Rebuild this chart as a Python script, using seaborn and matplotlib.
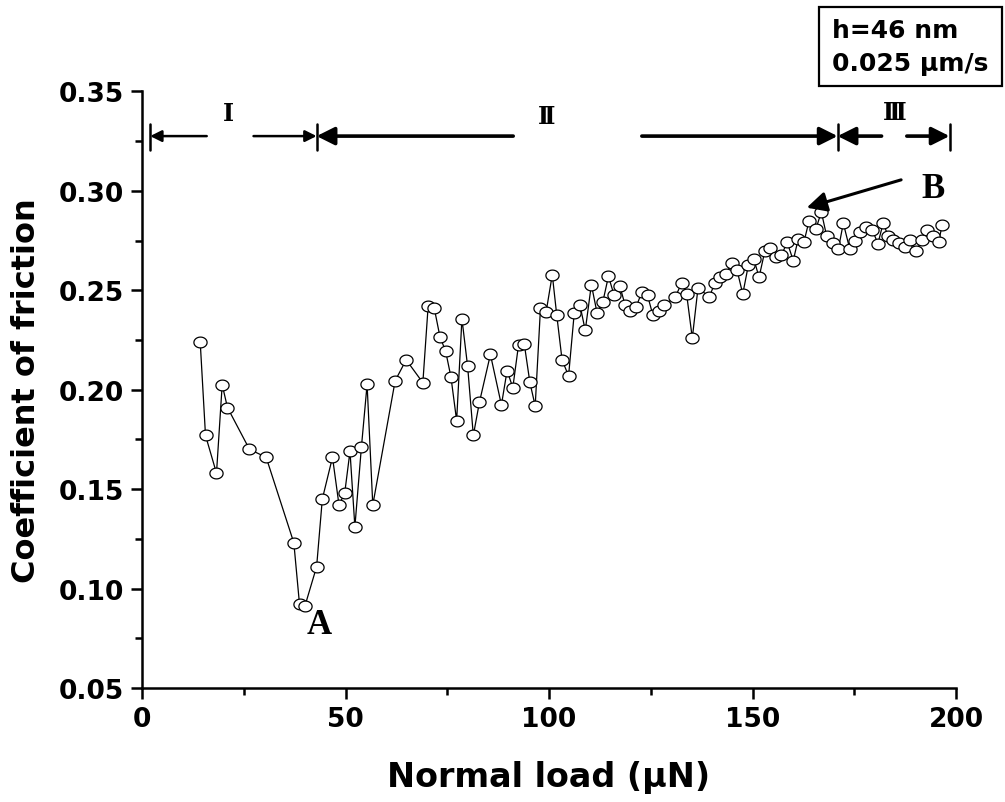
import numpy as np
import pandas as pd
import matplotlib
matplotlib.use("Agg")
import matplotlib.pyplot as plt
from matplotlib.path import Path
from matplotlib.patches import Rectangle
import seaborn as sns

# ---------------- data ----------------
load_uN = [14.3, 15.6, 18.3, 19.7, 21.0, 26.4, 30.5, 37.3, 38.7, 40.0, 42.9, 44.3,
           46.8, 48.4, 49.8, 51.1, 52.3, 53.9, 55.3, 56.7, 62.2, 64.9, 69.0, 70.3,
           71.8, 73.2, 74.6, 75.9, 77.3, 78.6, 80.0, 81.4, 82.9, 85.6, 88.3, 89.7,
           91.1, 92.5, 93.9, 95.3, 96.6, 97.9, 99.3, 100.8, 101.9, 103.2, 104.8, 106.2,
           107.6, 108.9, 110.4, 111.8, 113.2, 114.6, 116.0, 117.4, 118.7, 120.0, 121.4,
           122.8, 124.2, 125.5, 126.9, 128.3, 131.0, 132.6, 133.8, 135.2, 136.6, 139.4,
           140.7, 142.0, 143.5, 144.9, 146.2, 147.6, 149.0, 150.3, 151.6, 153.0, 154.4,
           155.7, 157.1, 158.5, 160.0, 161.2, 162.6, 163.9, 165.6, 166.9, 168.2, 169.7,
           171.1, 172.3, 173.9, 175.2, 176.4, 177.9, 179.4, 180.8, 182.1, 183.3, 184.6,
           186.0, 187.4, 188.8, 190.2, 191.6, 192.9, 194.3, 195.7, 196.6]
cof = [0.224, 0.177, 0.158, 0.2025, 0.191, 0.170, 0.166, 0.123, 0.092, 0.091, 0.111, 0.145,
       0.166, 0.142, 0.148, 0.169, 0.131, 0.171, 0.2026, 0.142, 0.2045, 0.215, 0.2035, 0.242,
       0.241, 0.2266, 0.2193, 0.2064, 0.1844, 0.2357, 0.2117, 0.177, 0.1937, 0.2177, 0.1923, 0.2096,
       0.201, 0.2224, 0.2232, 0.2036, 0.1918, 0.241, 0.2393, 0.2578, 0.2374, 0.215, 0.2069, 0.2386,
       0.2425, 0.2298, 0.2528, 0.2386, 0.244, 0.257, 0.2474, 0.252, 0.2425, 0.2396, 0.2416,
       0.2491, 0.2474, 0.2376, 0.2398, 0.2426, 0.2465, 0.2537, 0.2481, 0.2259, 0.2511, 0.2467,
       0.2535, 0.2568, 0.2582, 0.2638, 0.2600, 0.2481, 0.2629, 0.2658, 0.2565, 0.2695, 0.2712,
       0.2667, 0.2675, 0.2742, 0.2649, 0.2756, 0.2740, 0.2850, 0.2810, 0.2894, 0.2773, 0.2736,
       0.2709, 0.2837, 0.2706, 0.2748, 0.2793, 0.2819, 0.2805, 0.2734, 0.2838, 0.2773, 0.2754,
       0.2737, 0.2717, 0.2754, 0.2697, 0.2751, 0.2801, 0.2773, 0.2743, 0.2827]

region_bounds = [2.0, 42.9, 170.9, 198.4]
region_labels = ["Ⅰ", "Ⅱ", "Ⅲ"]
region_label_x = [21.2, 99.5, 185.0]
region_label_y = [0.3390, 0.3375, 0.3395]
# arrows: (start_x, end_x)
region_arrows = [(15.9, 2.0), (27.4, 42.9), (91.2, 42.9), (122.8, 170.9), (181.7, 170.9), (187.9, 198.4)]
arrow_y = 0.3275

x_ticks = [0, 50, 100, 150, 200]
y_ticks = [0.05, 0.10, 0.15, 0.20, 0.25, 0.30, 0.35]

df = pd.DataFrame({"load": load_uN, "cof": cof})

# ---------------- style ----------------
sns.set_theme(style="ticks")
plt.rcParams["font.family"] = ["DejaVu Sans"]
plt.rcParams["font.weight"] = "bold"
for k in ["text.color", "axes.labelcolor", "xtick.color", "ytick.color", "axes.edgecolor"]:
    plt.rcParams[k] = "black"

fig = plt.figure(figsize=(10.05, 8.03), dpi=100)
ax = fig.add_axes([0.1413, 0.142, 0.810, 0.743])

# elliptical open marker
t = np.linspace(0, 2 * np.pi, 40)
ell = Path(np.column_stack([np.cos(t), 0.82 * np.sin(t)]), closed=True)

sns.lineplot(data=df, x="load", y="cof", ax=ax, color="black", linewidth=0.9,
             estimator=None, sort=False, marker=ell, markersize=9.5,
             markerfacecolor="white", markeredgecolor="black", markeredgewidth=0.9)

ax.set_xlim(0, 200)
ax.set_ylim(0.05, 0.35)
ax.set_xticks(x_ticks)
ax.set_yticks(y_ticks)
ax.set_xticklabels([str(v) for v in x_ticks])
ax.set_yticklabels([f"{v:.2f}" for v in y_ticks])
ax.set_xticks([25, 75, 125, 175], minor=True)
ax.set_yticks([0.075, 0.125, 0.175, 0.225, 0.275, 0.325], minor=True)
ax.tick_params(which="major", direction="out", length=8, width=1.8, labelsize=19, pad=5,
               colors="black")
ax.tick_params(which="minor", direction="out", length=5, width=1.8, colors="black")
for lab in ax.get_xticklabels() + ax.get_yticklabels():
    lab.set_fontweight("bold")
for s in ["top", "right"]:
    ax.spines[s].set_visible(False)
for s in ["left", "bottom"]:
    ax.spines[s].set_linewidth(1.8)
    ax.spines[s].set_color("black")

ax.set_xlabel("Normal load (μN)", fontsize=24, fontweight="bold", labelpad=20, color="black")
ax.set_ylabel("Coefficient of friction", fontsize=23, fontweight="bold", labelpad=12,
              color="black")

# region boundary bars
for bx in region_bounds:
    ax.plot([bx, bx], [0.3203, 0.3337], color="black", linewidth=1.8, clip_on=False)

# region arrows
for i, (sx, ex) in enumerate(region_arrows):
    thin = i < 2
    ax.annotate("", xy=(ex, arrow_y), xytext=(sx, arrow_y),
                arrowprops=dict(arrowstyle="-|>", color="black",
                                lw=1.8 if thin else 2.6,
                                mutation_scale=17 if thin else 27,
                                shrinkA=0, shrinkB=0))

for lx, ly, lt in zip(region_label_x, region_label_y, region_labels):
    ax.text(lx, ly, lt, ha="center", va="center", fontsize=17, fontweight="bold",
            color="black", family=["DejaVu Serif", "Liberation Serif"])

# A and B labels
ax.text(43.5, 0.082, "A", ha="center", va="center", fontsize=25, fontweight="bold",
        color="black", family=["Liberation Serif"])
ax.text(194.3, 0.301, "B", ha="center", va="center", fontsize=25, fontweight="bold",
        color="black", family=["Liberation Serif"])
ax.annotate("", xy=(163.3, 0.2915), xytext=(186.5, 0.3055),
            arrowprops=dict(arrowstyle="-|>", color="black", lw=2.2,
                            mutation_scale=30, shrinkA=0, shrinkB=0))

# info box
fig.patches.append(Rectangle((819 / 1005, 1 - 87 / 803), (1002 - 819) / 1005, (87 - 8) / 803,
                             transform=fig.transFigure, fill=False, edgecolor="black",
                             linewidth=1.6))
fig.text(832 / 1005, 1 - 31 / 803, "h=46 nm", fontsize=18, fontweight="bold",
         va="center", ha="left", color="black", family=["DejaVu Sans"])
fig.text(832 / 1005, 1 - 64 / 803, "0.025 μm/s", fontsize=18, fontweight="bold",
         va="center", ha="left", color="black", family=["DejaVu Sans"])

fig.savefig("out.png", dpi=100, facecolor="white")
